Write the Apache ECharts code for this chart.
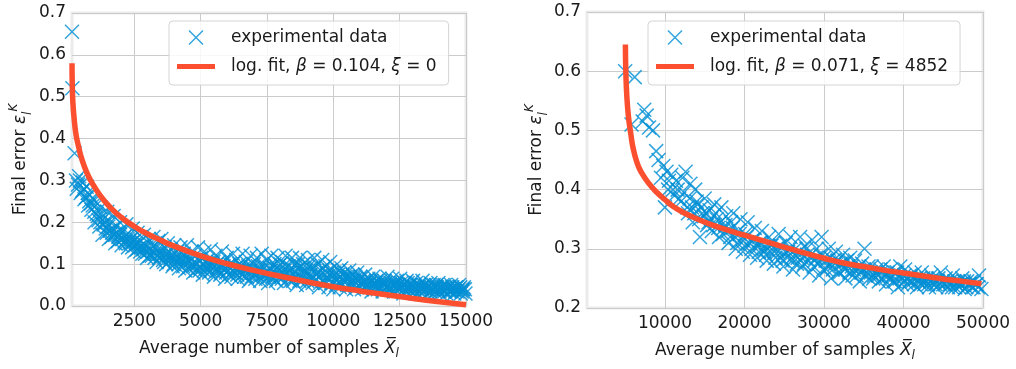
<!DOCTYPE html>
<html>
<head>
<meta charset="utf-8">
<script src="https://cdn.jsdelivr.net/npm/echarts@6/dist/echarts.min.js"></script>
<style>
html,body{margin:0;padding:0;background:#fff;}
#chart{width:1016px;height:369px;}
</style>
</head>
<body>
<div id="chart"></div>
<script>
// ---------- data ----------
const leftXTicks = [2500, 5000, 7500, 10000, 12500, 15000];
const rightXTicks = [10000, 20000, 30000, 40000, 50000];

const leftScatter = [
[150,0.655],[165,0.52],[250,0.365],[300,0.30],[330,0.28],[420,0.31],[480,0.27],[560,0.295],[620,0.255],[700,0.285],
[760,0.24],[820,0.265],[880,0.23],[950,0.255],[1000,0.2],[1050,0.24],[1120,0.215],[1180,0.19],[1240,0.235],[1300,0.17],
[1360,0.21],[1420,0.185],[1480,0.225],[1540,0.16],[1600,0.2],[1660,0.175],[1720,0.215],[1780,0.15],[1840,0.19],[1900,0.165],
[1960,0.2],[2020,0.145],[2080,0.18],[2140,0.155],[2200,0.195],[2260,0.14],[2320,0.17],[2380,0.15],[2440,0.185],[2500,0.13],
[2560,0.16],[2620,0.175],[2680,0.14],[2740,0.155],[2800,0.125],[2860,0.17],[2920,0.145],[2980,0.115],[3040,0.16],[3100,0.135],
[3160,0.12],[3220,0.165],[3280,0.14],[3340,0.105],[3400,0.155],[3460,0.125],[3520,0.16],[3580,0.11],[3640,0.14],[3700,0.1],
[3760,0.15],[3820,0.12],[3880,0.135],[3940,0.095],[4000,0.145],[4060,0.115],[4120,0.13],[4180,0.09],[4240,0.14],[4300,0.105],
[4360,0.125],[4420,0.085],[4480,0.145],[4540,0.11],[4600,0.095],[4660,0.13],[4720,0.08],[4780,0.12],[4840,0.1],[4900,0.14],
[4960,0.085],[5020,0.115],[5080,0.075],[5140,0.13],[5200,0.095],[5260,0.11],[5320,0.08],[5380,0.135],[5440,0.1],[5500,0.07],
[5560,0.12],[5620,0.09],[5680,0.105],[5740,0.075],[5800,0.13],[5860,0.095],[5920,0.065],[5980,0.115],[6040,0.085],[6100,0.1],
[6160,0.07],[6220,0.125],[6280,0.09],[6340,0.11],[6400,0.065],[6460,0.1],[6520,0.08],[6580,0.125],[6640,0.07],[6700,0.105],
[6760,0.09],[6820,0.06],[6880,0.12],[6940,0.08],[7000,0.1],[7060,0.065],[7120,0.115],[7180,0.085],[7240,0.06],[7300,0.125],
[7360,0.095],[7420,0.075],[7480,0.11],[7540,0.055],[7600,0.09],[7660,0.12],[7720,0.07],[7780,0.1],[7840,0.06],[7900,0.115],
[7960,0.085],[8020,0.07],[8080,0.105],[8140,0.055],[8200,0.12],[8260,0.08],[8320,0.095],[8380,0.06],[8440,0.115],[8500,0.075],
[8560,0.1],[8620,0.05],[8680,0.09],[8740,0.115],[8800,0.065],[8860,0.1],[8920,0.08],[8980,0.05],[9040,0.11],[9100,0.07],
[9160,0.09],[9220,0.055],[9280,0.115],[9340,0.075],[9400,0.1],[9460,0.045],[9520,0.085],[9580,0.11],[9640,0.06],[9700,0.095],
[9760,0.07],[9820,0.045],[9880,0.105],[9940,0.08],[10000,0.04],[10060,0.095],[10120,0.06],[10180,0.075],[10240,0.045],[10300,0.09],
[10360,0.065],[10420,0.08],[10480,0.04],[10540,0.07],[10600,0.085],[10660,0.055],[10720,0.075],[10780,0.04],[10840,0.065],[10900,0.08],
[10960,0.05],[11020,0.07],[11080,0.04],[11140,0.06],[11200,0.075],[11260,0.045],[11320,0.065],[11380,0.055],[11440,0.035],[11500,0.07],
[11560,0.05],[11620,0.06],[11680,0.04],[11740,0.065],[11800,0.05],[11860,0.035],[11920,0.06],[11980,0.045],[12040,0.07],[12100,0.04],
[12160,0.055],[12220,0.065],[12280,0.035],[12340,0.05],[12400,0.06],[12460,0.04],[12520,0.065],[12580,0.045],[12640,0.03],[12700,0.055],
[12760,0.06],[12820,0.04],[12880,0.05],[12940,0.035],[13000,0.06],[13060,0.045],[13120,0.055],[13180,0.03],[13240,0.05],[13300,0.04],
[13360,0.06],[13420,0.035],[13480,0.05],[13540,0.045],[13600,0.03],[13660,0.055],[13720,0.04],[13780,0.05],[13840,0.035],[13900,0.045],
[13960,0.055],[14020,0.03],[14080,0.045],[14140,0.04],[14200,0.05],[14260,0.03],[14320,0.045],[14380,0.035],[14440,0.05],[14500,0.04],
[14560,0.03],[14620,0.045],[14680,0.035],[14740,0.05],[14800,0.03],[14860,0.04],[14920,0.045],[14980,0.03]
];

const leftScatterCore = [
[380,0.29],[450,0.3],[530,0.275],[600,0.28],[680,0.26],[740,0.27],[800,0.25],[870,0.245],[930,0.24],[990,0.225],
[1080,0.22],[1150,0.205],[1220,0.2],[1280,0.22],[1340,0.195],[1400,0.2],[1460,0.175],[1520,0.19],[1580,0.18],[1640,0.165],
[1700,0.185],[1760,0.17],[1820,0.175],[1880,0.155],[1940,0.17],[2000,0.18],[2060,0.16],[2120,0.165],[2180,0.15],[2240,0.16],
[2300,0.15],[2360,0.16],[2420,0.14],[2480,0.155],[2540,0.145],[2600,0.135],[2660,0.15],[2720,0.13],[2780,0.14],[2840,0.135],
[2900,0.125],[2960,0.14],[3020,0.13],[3080,0.12],[3140,0.145],[3200,0.13],[3260,0.115],[3320,0.125],[3380,0.135],[3440,0.115],
[3500,0.12],[3560,0.13],[3620,0.105],[3680,0.12],[3740,0.125],[3800,0.105],[3860,0.115],[3920,0.12],[3980,0.1],[4040,0.11],
[4100,0.12],[4160,0.1],[4220,0.11],[4280,0.115],[4340,0.095],[4400,0.105],[4460,0.115],[4520,0.09],[4580,0.105],[4640,0.11],
[4700,0.095],[4760,0.105],[4820,0.085],[4880,0.1],[4940,0.11],[5000,0.09],[5060,0.1],[5120,0.085],[5180,0.105],[5240,0.09],
[5300,0.1],[5360,0.085],[5420,0.095],[5480,0.105],[5540,0.08],[5600,0.1],[5660,0.085],[5720,0.095],[5780,0.08],[5840,0.105],
[5900,0.09],[5960,0.08],[6020,0.095],[6080,0.075],[6140,0.09],[6200,0.1],[6260,0.08],[6320,0.09],[6380,0.075],[6440,0.085],
[6500,0.095],[6560,0.075],[6620,0.09],[6680,0.08],[6740,0.07],[6800,0.095],[6860,0.085],[6920,0.07],[6980,0.09],[7040,0.08],
[7100,0.075],[7160,0.095],[7220,0.07],[7280,0.085],[7340,0.075],[7400,0.09],[7460,0.065],[7520,0.08],[7580,0.07],[7640,0.085],
[7700,0.095],[7760,0.065],[7820,0.08],[7880,0.09],[7940,0.07],[8000,0.1],[8060,0.065],[8120,0.085],[8180,0.075],[8240,0.095],
[8300,0.065],[8360,0.08],[8420,0.09],[8480,0.06],[8540,0.085],[8600,0.07],[8660,0.1],[8720,0.06],[8780,0.08],[8840,0.09],
[8900,0.065],[8960,0.085],[9020,0.06],[9080,0.095],[9140,0.075],[9200,0.065],[9260,0.09],[9320,0.06],[9380,0.08],[9440,0.07],
[9500,0.055],[9560,0.075],[9620,0.09],[9680,0.055],[9740,0.08],[9800,0.065],[9860,0.085],[9920,0.055],[9980,0.07],[10040,0.08],
[10100,0.05],[10160,0.065],[10220,0.085],[10280,0.055],[10340,0.075],[10400,0.06],[10460,0.07],[10520,0.05],[10580,0.065],[10640,0.07],
[10700,0.05],[10760,0.06],[10820,0.07],[10880,0.045],[10940,0.06],[11000,0.065],[11060,0.05],[11120,0.055],[11180,0.045],[11240,0.06],
[11300,0.05],[11360,0.045],[11420,0.06],[11480,0.05],[11540,0.04],[11600,0.055],[11660,0.05],[11720,0.045],[11780,0.06],[11840,0.045],
[11900,0.05],[11960,0.055],[12020,0.045],[12080,0.05],[12140,0.04],[12200,0.05],[12260,0.045],[12320,0.055],[12380,0.045],[12440,0.05],
[12500,0.04],[12560,0.055],[12620,0.05],[12680,0.04],[12740,0.045],[12800,0.055],[12860,0.04],[12920,0.05],[12980,0.045],[13040,0.035],
[13100,0.045],[13160,0.04],[13220,0.045],[13280,0.035],[13340,0.045],[13400,0.05],[13460,0.04],[13520,0.04],[13580,0.045],[13640,0.035],
[13700,0.045],[13760,0.04],[13820,0.045],[13880,0.05],[13940,0.04],[14000,0.035],[14060,0.04],[14120,0.05],[14180,0.035],[14240,0.045],
[14300,0.04],[14360,0.045],[14420,0.035],[14480,0.045],[14540,0.04],[14600,0.035],[14660,0.045],[14720,0.04],[14780,0.045],[14840,0.035],
[14900,0.04],[14960,0.04]
];

const leftFit = [
[150,0.58],[160,0.53],[180,0.49],[220,0.455],[300,0.41],[400,0.38],[500,0.355],[700,0.32],[900,0.295],[1200,0.265],
[1600,0.235],[2000,0.212],[2500,0.19],[3000,0.172],[3500,0.157],[4000,0.143],[5000,0.12],[6000,0.101],[7000,0.085],[8000,0.071],
[9000,0.058],[10000,0.046],[11000,0.036],[12000,0.027],[13000,0.018],[14000,0.01],[15000,0.003]
];

const rightScatter = [
[5000,0.60],[6200,0.59],[5800,0.51],[7200,0.515],[7400,0.535],[7700,0.525],[8000,0.505],[8500,0.50],[8900,0.465],[9200,0.45],
[9800,0.44],[10200,0.43],[10000,0.37],[10500,0.415],[11000,0.40],[11400,0.415],[11800,0.385],[12200,0.42],[12600,0.43],[12900,0.36],
[13200,0.41],[13500,0.345],[13800,0.40],[14100,0.375],[14400,0.32],[14700,0.36],[15000,0.385],[15300,0.34],[15600,0.365],[15900,0.33],
[16200,0.375],[16500,0.35],[16800,0.32],[17100,0.37],[17400,0.335],[17700,0.355],[18000,0.31],[18300,0.345],[18600,0.36],[18900,0.3],
[19200,0.33],[19500,0.35],[19800,0.295],[20100,0.325],[20400,0.345],[20700,0.29],[21000,0.315],[21300,0.335],[21600,0.285],[21900,0.31],
[22200,0.33],[22500,0.295],[22800,0.28],[23100,0.32],[23400,0.305],[23700,0.275],[24000,0.3],[24300,0.325],[24600,0.285],[24900,0.27],
[25200,0.31],[25500,0.295],[25800,0.32],[26100,0.265],[26400,0.3],[26700,0.285],[27000,0.32],[27300,0.27],[27600,0.305],[27900,0.29],
[28200,0.26],[28500,0.315],[28800,0.28],[29100,0.3],[29400,0.255],[29700,0.32],[30000,0.285],[30300,0.265],[30600,0.3],[30900,0.25],
[31200,0.28],[31500,0.295],[31800,0.26],[32100,0.275],[32400,0.29],[32700,0.25],[33000,0.27],[33300,0.285],[33600,0.255],[33900,0.28],
[34200,0.265],[34500,0.245],[34800,0.275],[35100,0.3],[35400,0.26],[35700,0.25],[36000,0.27],[36300,0.255],[36600,0.265],[36900,0.245],
[37200,0.26],[37500,0.27],[37800,0.24],[38100,0.255],[38400,0.265],[38700,0.245],[39000,0.26],[39300,0.235],[39600,0.27],[39900,0.25],
[40200,0.265],[40500,0.24],[40800,0.255],[41100,0.245],[41400,0.26],[41700,0.235],[42000,0.25],[42300,0.26],[42600,0.24],[42900,0.25],
[43200,0.235],[43500,0.255],[43800,0.245],[44100,0.235],[44400,0.25],[44700,0.26],[45000,0.24],[45300,0.25],[45600,0.235],[45900,0.245],
[46200,0.255],[46500,0.235],[46800,0.245],[47100,0.24],[47400,0.25],[47700,0.232],[48000,0.245],[48300,0.24],[48600,0.235],[48900,0.245],
[49200,0.24],[49500,0.255],[49800,0.232]
];

const rightScatterCore = [
[9500,0.42],[10400,0.40],[10800,0.425],[11200,0.39],[11600,0.4],[12000,0.38],[12400,0.395],[12800,0.37],[13100,0.385],[13400,0.37],
[13700,0.36],[14000,0.38],[14300,0.35],[14600,0.37],[14900,0.355],[15200,0.36],[15500,0.345],[15800,0.35],[16100,0.34],[16400,0.36],
[16700,0.335],[17000,0.345],[17300,0.325],[17600,0.34],[17900,0.33],[18200,0.32],[18500,0.335],[18800,0.32],[19100,0.31],[19400,0.325],
[19700,0.315],[20000,0.305],[20300,0.32],[20600,0.31],[20900,0.3],[21200,0.315],[21500,0.305],[21800,0.295],[22100,0.31],[22400,0.3],
[22700,0.29],[23000,0.305],[23300,0.295],[23600,0.31],[23900,0.285],[24200,0.295],[24500,0.305],[24800,0.28],[25100,0.295],[25400,0.285],
[25700,0.3],[26000,0.28],[26300,0.29],[26600,0.275],[26900,0.295],[27200,0.285],[27500,0.275],[27800,0.3],[28100,0.28],[28400,0.29],
[28700,0.27],[29000,0.285],[29300,0.275],[29600,0.29],[29900,0.265],[30200,0.28],[30500,0.27],[30800,0.285],[31100,0.265],[31400,0.275],
[31700,0.28],[32000,0.26],[32300,0.275],[32600,0.265],[32900,0.28],[33200,0.26],[33500,0.27],[33800,0.265],[34100,0.255],[34400,0.27],
[34700,0.26],[35000,0.265],[35300,0.255],[35600,0.27],[35900,0.26],[36200,0.25],[36500,0.26],[36800,0.255],[37100,0.265],[37400,0.25],
[37700,0.255],[38000,0.26],[38300,0.25],[38600,0.255],[38900,0.245],[39200,0.26],[39500,0.25],[39800,0.24],[40100,0.255],[40400,0.25],
[40700,0.245],[41000,0.255],[41300,0.24],[41600,0.25],[41900,0.245],[42200,0.24],[42500,0.25],[42800,0.245],[43100,0.24],[43400,0.245],
[43700,0.25],[44000,0.24],[44300,0.245],[44600,0.24],[44900,0.245],[45200,0.24],[45500,0.245],[45800,0.24],[46100,0.235],[46400,0.245],
[46700,0.24],[47000,0.235],[47300,0.24],[47600,0.245],[47900,0.235],[48200,0.24],[48500,0.245],[48800,0.235],[49100,0.24],[49400,0.235]
];

const rightFit = [
[5030,0.645],[5080,0.60],[5200,0.56],[5400,0.525],[5700,0.495],[6000,0.47],[6500,0.445],[7000,0.43],[8000,0.41],[9000,0.395],
[10000,0.383],[11000,0.372],[12500,0.36],[14300,0.349],[16000,0.34],[18000,0.331],[20000,0.323],[22500,0.313],[25000,0.303],[27500,0.293],
[30000,0.284],[32500,0.276],[35000,0.27],[37500,0.264],[40000,0.259],[42500,0.254],[45000,0.249],[47500,0.245],[49800,0.241]
];

const scatterName = 'experimental data';
const leftFitName = 'log. fit, β = 0.104, ξ = 0';
const rightFitName = 'log. fit, β = 0.071, ξ = 4852';
const leftFitRich = '{p| }{n|log. fit, }{i|β}{n| = 0.104, }{i|ξ}{n| = 0}';
const rightFitRich = '{p| }{n|log. fit, }{i|β}{n| = 0.071, }{i|ξ}{n| = 4852}';

// ---------- styling ----------
const FONT = 'DejaVu Sans';
const BLUE = '#008fd5';
const RED = '#fc4f30';
const TXT = '#1a1a1a';
const XPATH = 'path://M0,0L10,10M10,0L0,10';
const LINEPATH = 'path://M0,0H38V5H0Z';
const FS = 17;

const chart = echarts.init(document.getElementById('chart'), null, {renderer: 'canvas'});

const xNameRich = {
  n: {fontFamily: FONT, fontSize: FS, color: TXT, lineHeight: 22},
  i: {fontFamily: FONT, fontSize: FS, color: TXT, fontStyle: 'italic', lineHeight: 22},
  s: {fontFamily: FONT, fontSize: 12, color: TXT, fontStyle: 'italic', lineHeight: 12, verticalAlign: 'bottom'}
};
const yNameRich = {
  n: {fontFamily: FONT, fontSize: FS, color: TXT, lineHeight: 26},
  i: {fontFamily: FONT, fontSize: FS, color: TXT, fontStyle: 'italic', lineHeight: 26},
  s: {fontFamily: FONT, fontSize: 12, color: TXT, fontStyle: 'italic', lineHeight: 12, verticalAlign: 'bottom'},
  u: {fontFamily: FONT, fontSize: 12, color: TXT, fontStyle: 'italic', lineHeight: 12, verticalAlign: 'top'}
};
const xName = '{n|Average number of samples }{i|X\u0305}{s|l}';
const yName = '{n|Final error }{i|ε}{s|l}{u|K}';

function xAxisCfg(gridIndex, min, max, ticks) {
  return {
    type: 'value', gridIndex, min, max,
    name: xName, nameLocation: 'middle', nameGap: 32,
    nameTextStyle: {rich: xNameRich},
    axisLine: {show: false},
    axisTick: {show: false, customValues: ticks},
    axisLabel: {customValues: ticks, fontFamily: FONT, fontSize: FS, color: TXT, margin: 7,
      formatter: v => String(Math.round(v))},
    splitLine: {show: true, lineStyle: {color: '#cbcbcb', width: 1}}
  };
}
function yAxisCfg(gridIndex, min, max, gap) {
  return {
    type: 'value', gridIndex, min, max, interval: 0.1,
    name: yName, nameLocation: 'middle', nameGap: gap,
    nameTextStyle: {rich: yNameRich},
    axisLine: {show: false},
    axisTick: {show: false},
    axisLabel: {fontFamily: FONT, fontSize: FS, color: TXT, margin: 6,
      formatter: v => (Math.round(v * 10) / 10).toFixed(1)},
    splitLine: {show: true, lineStyle: {color: '#cbcbcb', width: 1}}
  };
}
function legendCfg(left, fitName, fitRich) {
  return {
    orient: 'vertical', left, top: 21,
    padding: [8, 12, 10, 8],
    itemWidth: 38, itemHeight: 14, itemGap: 12,
    backgroundColor: 'rgba(255,255,255,0.85)',
    borderColor: '#d4d4d4', borderWidth: 1, borderRadius: 4,
    textStyle: {fontFamily: FONT, fontSize: FS, color: TXT, lineHeight: 17,
      rich: {
        p: {fontFamily: FONT, fontSize: FS, width: 11, lineHeight: 17},
        n: {fontFamily: FONT, fontSize: FS, color: TXT, lineHeight: 17},
        i: {fontFamily: FONT, fontSize: FS, color: TXT, fontStyle: 'italic', lineHeight: 17}
      }},
    formatter: name => name === fitName ? fitRich : '{p| }{n|' + name + '}',
    data: [
      {name: scatterName, icon: XPATH, itemStyle: {color: 'rgba(0,0,0,0)', borderColor: BLUE, borderWidth: 1.5}},
      {name: fitName, icon: LINEPATH, itemStyle: {color: RED, borderWidth: 0}}
    ],
    selectedMode: false
  };
}
function scatterSeries(idx, data) {
  return {
    type: 'scatter', name: scatterName, xAxisIndex: idx, yAxisIndex: idx,
    data, symbol: XPATH, symbolSize: 14,
    itemStyle: {color: 'rgba(0,0,0,0)', borderColor: BLUE, borderWidth: 1.5},
    z: 2
  };
}
function fitSeries(idx, name, data) {
  return {
    type: 'line', name, xAxisIndex: idx, yAxisIndex: idx, data,
    showSymbol: false, smooth: true, clip: true,
    lineStyle: {color: RED, width: 5.5}, itemStyle: {color: RED},
    z: 3
  };
}

const option = {
  animation: false,
  backgroundColor: '#ffffff',
  textStyle: {fontFamily: FONT},
  grid: [
    {left: 72, right: 550, top: 13, bottom: 63, show: true, borderColor: '#ebebeb', borderWidth: 3, backgroundColor: '#fff', outerBoundsMode: 'none'},
    {left: 587, right: 33, top: 12, bottom: 61, show: true, borderColor: '#ebebeb', borderWidth: 3, backgroundColor: '#fff', outerBoundsMode: 'none'}
  ],
  xAxis: [
    xAxisCfg(0, 150, 15000, leftXTicks),
    xAxisCfg(1, 200, 50000, rightXTicks)
  ],
  yAxis: [
    yAxisCfg(0, 0, 0.7, 38),
    yAxisCfg(1, 0.2, 0.7, 37)
  ],
  legend: [
    legendCfg(169, leftFitName, leftFitRich),
    legendCfg(648, rightFitName, rightFitRich)
  ],
  series: [
    scatterSeries(0, leftScatter.concat(leftScatterCore)),
    fitSeries(0, leftFitName, leftFit),
    scatterSeries(1, rightScatter.concat(rightScatterCore)),
    fitSeries(1, rightFitName, rightFit)
  ]
};
chart.setOption(option);
</script>
</body>
</html>
